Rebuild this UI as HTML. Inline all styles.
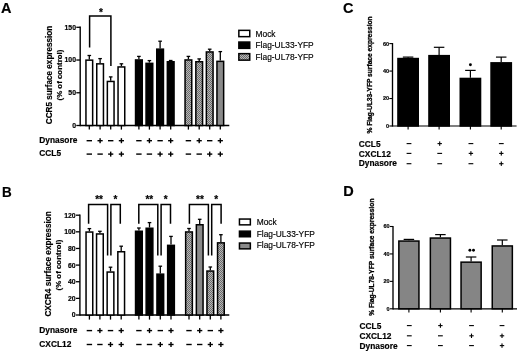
<!DOCTYPE html><html><head><meta charset="utf-8"><style>html,body{margin:0;padding:0;background:#fff;}svg{display:block;filter:grayscale(1);}text{font-family:"Liberation Sans",sans-serif;fill:#000;}text[font-weight="bold"]{stroke:#000;stroke-width:0.18px;}</style></head><body>
<svg width="520" height="362" viewBox="0 0 520 362">
<defs><pattern id="hatch" width="2" height="2" patternUnits="userSpaceOnUse"><rect width="2" height="2" fill="#b8b8b8"/><rect width="1" height="1" fill="#6a6a6a"/><rect x="1" y="1" width="1" height="1" fill="#6a6a6a"/></pattern></defs>
<rect width="520" height="362" fill="#fff"/>
<text x="0.90" y="13.40" font-size="14.5" font-weight="bold" text-anchor="start" >A</text>
<text transform="translate(1.9,196.6) scale(0.93,1.07)" font-size="14.5" font-weight="bold">B</text>
<text x="342.90" y="13.40" font-size="14.5" font-weight="bold" text-anchor="start" >C</text>
<text x="343.20" y="196.20" font-size="14.5" font-weight="bold" text-anchor="start" >D</text>
<line x1="80.20" y1="26.60" x2="80.20" y2="126.20" stroke="#000" stroke-width="1.4"/>
<line x1="80.20" y1="125.50" x2="229.30" y2="125.50" stroke="#000" stroke-width="1.4"/>
<line x1="76.30" y1="125.50" x2="80.20" y2="125.50" stroke="#000" stroke-width="1.3"/>
<text x="76.00" y="127.90" font-size="6.9" font-weight="bold" text-anchor="end" >0</text>
<line x1="76.30" y1="92.77" x2="80.20" y2="92.77" stroke="#000" stroke-width="1.3"/>
<text x="76.00" y="95.17" font-size="6.9" font-weight="bold" text-anchor="end" >50</text>
<line x1="76.30" y1="60.03" x2="80.20" y2="60.03" stroke="#000" stroke-width="1.3"/>
<text x="76.00" y="62.43" font-size="6.9" font-weight="bold" text-anchor="end" >100</text>
<line x1="76.30" y1="27.30" x2="80.20" y2="27.30" stroke="#000" stroke-width="1.3"/>
<text x="76.00" y="29.70" font-size="6.9" font-weight="bold" text-anchor="end" >150</text>
<rect x="85.95" y="60.15" width="6.70" height="65.35" fill="#fff" stroke="#000" stroke-width="1.5"/>
<line x1="89.30" y1="59.40" x2="89.30" y2="55.50" stroke="#000" stroke-width="1.3"/>
<line x1="87.50" y1="55.50" x2="91.10" y2="55.50" stroke="#000" stroke-width="1.3"/>
<line x1="89.30" y1="125.50" x2="89.30" y2="129.60" stroke="#000" stroke-width="1.3"/>
<rect x="96.75" y="63.85" width="6.70" height="61.65" fill="#fff" stroke="#000" stroke-width="1.5"/>
<line x1="100.10" y1="63.10" x2="100.10" y2="58.60" stroke="#000" stroke-width="1.3"/>
<line x1="98.30" y1="58.60" x2="101.90" y2="58.60" stroke="#000" stroke-width="1.3"/>
<line x1="100.10" y1="125.50" x2="100.10" y2="129.60" stroke="#000" stroke-width="1.3"/>
<rect x="107.35" y="81.45" width="6.70" height="44.05" fill="#fff" stroke="#000" stroke-width="1.5"/>
<line x1="110.70" y1="80.70" x2="110.70" y2="76.90" stroke="#000" stroke-width="1.3"/>
<line x1="108.90" y1="76.90" x2="112.50" y2="76.90" stroke="#000" stroke-width="1.3"/>
<line x1="110.70" y1="125.50" x2="110.70" y2="129.60" stroke="#000" stroke-width="1.3"/>
<rect x="118.05" y="66.95" width="6.70" height="58.55" fill="#fff" stroke="#000" stroke-width="1.5"/>
<line x1="121.40" y1="66.20" x2="121.40" y2="63.80" stroke="#000" stroke-width="1.3"/>
<line x1="119.60" y1="63.80" x2="123.20" y2="63.80" stroke="#000" stroke-width="1.3"/>
<line x1="121.40" y1="125.50" x2="121.40" y2="129.60" stroke="#000" stroke-width="1.3"/>
<rect x="135.55" y="59.95" width="6.70" height="65.55" fill="#000" stroke="#000" stroke-width="1.5"/>
<line x1="138.90" y1="59.20" x2="138.90" y2="56.40" stroke="#000" stroke-width="1.3"/>
<line x1="137.10" y1="56.40" x2="140.70" y2="56.40" stroke="#000" stroke-width="1.3"/>
<line x1="138.90" y1="125.50" x2="138.90" y2="129.60" stroke="#000" stroke-width="1.3"/>
<rect x="146.05" y="63.35" width="6.70" height="62.15" fill="#000" stroke="#000" stroke-width="1.5"/>
<line x1="149.40" y1="62.60" x2="149.40" y2="60.60" stroke="#000" stroke-width="1.3"/>
<line x1="147.60" y1="60.60" x2="151.20" y2="60.60" stroke="#000" stroke-width="1.3"/>
<line x1="149.40" y1="125.50" x2="149.40" y2="129.60" stroke="#000" stroke-width="1.3"/>
<rect x="156.75" y="49.15" width="6.70" height="76.35" fill="#000" stroke="#000" stroke-width="1.5"/>
<line x1="160.10" y1="48.40" x2="160.10" y2="41.20" stroke="#000" stroke-width="1.3"/>
<line x1="158.30" y1="41.20" x2="161.90" y2="41.20" stroke="#000" stroke-width="1.3"/>
<line x1="160.10" y1="125.50" x2="160.10" y2="129.60" stroke="#000" stroke-width="1.3"/>
<rect x="167.35" y="61.75" width="6.70" height="63.75" fill="#000" stroke="#000" stroke-width="1.5"/>
<line x1="170.70" y1="61.00" x2="170.70" y2="60.50" stroke="#000" stroke-width="1.3"/>
<line x1="168.90" y1="60.50" x2="172.50" y2="60.50" stroke="#000" stroke-width="1.3"/>
<line x1="170.70" y1="125.50" x2="170.70" y2="129.60" stroke="#000" stroke-width="1.3"/>
<rect x="185.05" y="59.95" width="6.70" height="65.55" fill="url(#hatch)" stroke="#000" stroke-width="1.5"/>
<line x1="188.40" y1="59.20" x2="188.40" y2="56.40" stroke="#000" stroke-width="1.3"/>
<line x1="186.60" y1="56.40" x2="190.20" y2="56.40" stroke="#000" stroke-width="1.3"/>
<line x1="188.40" y1="125.50" x2="188.40" y2="129.60" stroke="#000" stroke-width="1.3"/>
<rect x="195.85" y="61.75" width="6.70" height="63.75" fill="url(#hatch)" stroke="#000" stroke-width="1.5"/>
<line x1="199.20" y1="61.00" x2="199.20" y2="58.90" stroke="#000" stroke-width="1.3"/>
<line x1="197.40" y1="58.90" x2="201.00" y2="58.90" stroke="#000" stroke-width="1.3"/>
<line x1="199.20" y1="125.50" x2="199.20" y2="129.60" stroke="#000" stroke-width="1.3"/>
<rect x="206.35" y="51.95" width="6.70" height="73.55" fill="url(#hatch)" stroke="#000" stroke-width="1.5"/>
<line x1="209.70" y1="51.20" x2="209.70" y2="49.20" stroke="#000" stroke-width="1.3"/>
<line x1="207.90" y1="49.20" x2="211.50" y2="49.20" stroke="#000" stroke-width="1.3"/>
<line x1="209.70" y1="125.50" x2="209.70" y2="129.60" stroke="#000" stroke-width="1.3"/>
<rect x="216.95" y="61.35" width="6.70" height="64.15" fill="#8a8a8a" stroke="#000" stroke-width="1.5"/>
<line x1="220.30" y1="60.60" x2="220.30" y2="51.60" stroke="#000" stroke-width="1.3"/>
<line x1="218.50" y1="51.60" x2="222.10" y2="51.60" stroke="#000" stroke-width="1.3"/>
<line x1="220.30" y1="125.50" x2="220.30" y2="129.60" stroke="#000" stroke-width="1.3"/>
<path d="M89.6,47.5 V15.9 H110.9 V66" fill="none" stroke="#000" stroke-width="1.5"/>
<text x="100.90" y="16.40" font-size="10" font-weight="bold" text-anchor="middle" >*</text>
<text x="39.30" y="143.10" font-size="8.35" font-weight="bold" text-anchor="start" >Dynasore</text>
<text x="39.30" y="156.20" font-size="8.35" font-weight="bold" text-anchor="start" >CCL5</text>
<rect x="86.60" y="140.00" width="5.40" height="1.40" fill="#000"/>
<rect x="86.60" y="153.40" width="5.40" height="1.40" fill="#000"/>
<rect x="97.50" y="140.00" width="5.20" height="1.40" fill="#000"/>
<rect x="99.40" y="138.20" width="1.40" height="5.00" fill="#000"/>
<rect x="97.40" y="153.40" width="5.40" height="1.40" fill="#000"/>
<rect x="108.00" y="140.00" width="5.40" height="1.40" fill="#000"/>
<rect x="108.10" y="153.40" width="5.20" height="1.40" fill="#000"/>
<rect x="110.00" y="151.60" width="1.40" height="5.00" fill="#000"/>
<rect x="118.80" y="140.00" width="5.20" height="1.40" fill="#000"/>
<rect x="120.70" y="138.20" width="1.40" height="5.00" fill="#000"/>
<rect x="118.80" y="153.40" width="5.20" height="1.40" fill="#000"/>
<rect x="120.70" y="151.60" width="1.40" height="5.00" fill="#000"/>
<rect x="136.20" y="140.00" width="5.40" height="1.40" fill="#000"/>
<rect x="136.20" y="153.40" width="5.40" height="1.40" fill="#000"/>
<rect x="146.80" y="140.00" width="5.20" height="1.40" fill="#000"/>
<rect x="148.70" y="138.20" width="1.40" height="5.00" fill="#000"/>
<rect x="146.70" y="153.40" width="5.40" height="1.40" fill="#000"/>
<rect x="157.40" y="140.00" width="5.40" height="1.40" fill="#000"/>
<rect x="157.50" y="153.40" width="5.20" height="1.40" fill="#000"/>
<rect x="159.40" y="151.60" width="1.40" height="5.00" fill="#000"/>
<rect x="168.10" y="140.00" width="5.20" height="1.40" fill="#000"/>
<rect x="170.00" y="138.20" width="1.40" height="5.00" fill="#000"/>
<rect x="168.10" y="153.40" width="5.20" height="1.40" fill="#000"/>
<rect x="170.00" y="151.60" width="1.40" height="5.00" fill="#000"/>
<rect x="185.70" y="140.00" width="5.40" height="1.40" fill="#000"/>
<rect x="185.70" y="153.40" width="5.40" height="1.40" fill="#000"/>
<rect x="196.60" y="140.00" width="5.20" height="1.40" fill="#000"/>
<rect x="198.50" y="138.20" width="1.40" height="5.00" fill="#000"/>
<rect x="196.50" y="153.40" width="5.40" height="1.40" fill="#000"/>
<rect x="207.00" y="140.00" width="5.40" height="1.40" fill="#000"/>
<rect x="207.10" y="153.40" width="5.20" height="1.40" fill="#000"/>
<rect x="209.00" y="151.60" width="1.40" height="5.00" fill="#000"/>
<rect x="217.70" y="140.00" width="5.20" height="1.40" fill="#000"/>
<rect x="219.60" y="138.20" width="1.40" height="5.00" fill="#000"/>
<rect x="217.70" y="153.40" width="5.20" height="1.40" fill="#000"/>
<rect x="219.60" y="151.60" width="1.40" height="5.00" fill="#000"/>
<text transform="translate(51.9,124.2) rotate(-90)" font-size="8.15" font-weight="bold">CCR5 surface expression</text>
<text transform="translate(62.0,100.5) rotate(-90)" font-size="7.9" font-weight="bold">(% of control)</text>
<rect x="238.85" y="30.35" width="10.90" height="6.30" fill="#fff" stroke="#000" stroke-width="1.5"/>
<text x="255.50" y="36.60" font-size="8.4" font-weight="normal" text-anchor="start" stroke="#000" stroke-width="0.15">Mock</text>
<rect x="238.85" y="42.05" width="10.90" height="6.30" fill="#000" stroke="#000" stroke-width="1.5"/>
<text x="255.50" y="48.20" font-size="8.4" font-weight="normal" text-anchor="start" stroke="#000" stroke-width="0.15">Flag-UL33-YFP</text>
<rect x="238.85" y="53.65" width="10.90" height="6.50" fill="url(#hatch)" stroke="#000" stroke-width="1.5"/>
<text x="255.50" y="59.80" font-size="8.4" font-weight="normal" text-anchor="start" stroke="#000" stroke-width="0.15">Flag-UL78-YFP</text>
<line x1="79.90" y1="214.50" x2="79.90" y2="315.70" stroke="#000" stroke-width="1.4"/>
<line x1="79.90" y1="315.00" x2="229.30" y2="315.00" stroke="#000" stroke-width="1.4"/>
<line x1="76.00" y1="315.00" x2="79.90" y2="315.00" stroke="#000" stroke-width="1.3"/>
<text x="75.70" y="317.40" font-size="6.9" font-weight="bold" text-anchor="end" >0</text>
<line x1="76.00" y1="298.37" x2="79.90" y2="298.37" stroke="#000" stroke-width="1.3"/>
<text x="75.70" y="300.77" font-size="6.9" font-weight="bold" text-anchor="end" >20</text>
<line x1="76.00" y1="281.73" x2="79.90" y2="281.73" stroke="#000" stroke-width="1.3"/>
<text x="75.70" y="284.13" font-size="6.9" font-weight="bold" text-anchor="end" >40</text>
<line x1="76.00" y1="265.10" x2="79.90" y2="265.10" stroke="#000" stroke-width="1.3"/>
<text x="75.70" y="267.50" font-size="6.9" font-weight="bold" text-anchor="end" >60</text>
<line x1="76.00" y1="248.46" x2="79.90" y2="248.46" stroke="#000" stroke-width="1.3"/>
<text x="75.70" y="250.86" font-size="6.9" font-weight="bold" text-anchor="end" >80</text>
<line x1="76.00" y1="231.83" x2="79.90" y2="231.83" stroke="#000" stroke-width="1.3"/>
<text x="75.70" y="234.23" font-size="6.9" font-weight="bold" text-anchor="end" >100</text>
<line x1="76.00" y1="215.20" x2="79.90" y2="215.20" stroke="#000" stroke-width="1.3"/>
<text x="75.70" y="217.60" font-size="6.9" font-weight="bold" text-anchor="end" >120</text>
<rect x="86.05" y="232.05" width="6.70" height="82.95" fill="#fff" stroke="#000" stroke-width="1.5"/>
<line x1="89.40" y1="231.30" x2="89.40" y2="228.60" stroke="#000" stroke-width="1.3"/>
<line x1="87.60" y1="228.60" x2="91.20" y2="228.60" stroke="#000" stroke-width="1.3"/>
<line x1="89.40" y1="315.00" x2="89.40" y2="319.60" stroke="#000" stroke-width="1.3"/>
<rect x="96.55" y="233.95" width="6.70" height="81.05" fill="#fff" stroke="#000" stroke-width="1.5"/>
<line x1="99.90" y1="233.20" x2="99.90" y2="231.30" stroke="#000" stroke-width="1.3"/>
<line x1="98.10" y1="231.30" x2="101.70" y2="231.30" stroke="#000" stroke-width="1.3"/>
<line x1="99.90" y1="315.00" x2="99.90" y2="319.60" stroke="#000" stroke-width="1.3"/>
<rect x="107.15" y="272.05" width="6.70" height="42.95" fill="#fff" stroke="#000" stroke-width="1.5"/>
<line x1="110.50" y1="271.30" x2="110.50" y2="267.20" stroke="#000" stroke-width="1.3"/>
<line x1="108.70" y1="267.20" x2="112.30" y2="267.20" stroke="#000" stroke-width="1.3"/>
<line x1="110.50" y1="315.00" x2="110.50" y2="319.60" stroke="#000" stroke-width="1.3"/>
<rect x="117.85" y="251.75" width="6.70" height="63.25" fill="#fff" stroke="#000" stroke-width="1.5"/>
<line x1="121.20" y1="251.00" x2="121.20" y2="246.20" stroke="#000" stroke-width="1.3"/>
<line x1="119.40" y1="246.20" x2="123.00" y2="246.20" stroke="#000" stroke-width="1.3"/>
<line x1="121.20" y1="315.00" x2="121.20" y2="319.60" stroke="#000" stroke-width="1.3"/>
<path d="M88.60,223.7 V204.4 H107.60 V255.6" fill="none" stroke="#000" stroke-width="1.5"/>
<path d="M110.90,255.6 V204.4 H120.30 V223.7" fill="none" stroke="#000" stroke-width="1.5"/>
<text x="99.10" y="203.10" font-size="10" font-weight="bold" text-anchor="middle" >**</text>
<text x="115.50" y="202.60" font-size="10" font-weight="bold" text-anchor="middle" >*</text>
<rect x="135.55" y="231.25" width="6.70" height="83.75" fill="#000" stroke="#000" stroke-width="1.5"/>
<line x1="138.90" y1="230.50" x2="138.90" y2="228.00" stroke="#000" stroke-width="1.3"/>
<line x1="137.10" y1="228.00" x2="140.70" y2="228.00" stroke="#000" stroke-width="1.3"/>
<line x1="138.90" y1="315.00" x2="138.90" y2="319.60" stroke="#000" stroke-width="1.3"/>
<rect x="146.15" y="228.25" width="6.70" height="86.75" fill="#000" stroke="#000" stroke-width="1.5"/>
<line x1="149.50" y1="227.50" x2="149.50" y2="222.60" stroke="#000" stroke-width="1.3"/>
<line x1="147.70" y1="222.60" x2="151.30" y2="222.60" stroke="#000" stroke-width="1.3"/>
<line x1="149.50" y1="315.00" x2="149.50" y2="319.60" stroke="#000" stroke-width="1.3"/>
<rect x="156.95" y="274.15" width="6.70" height="40.85" fill="#000" stroke="#000" stroke-width="1.5"/>
<line x1="160.30" y1="273.40" x2="160.30" y2="266.20" stroke="#000" stroke-width="1.3"/>
<line x1="158.50" y1="266.20" x2="162.10" y2="266.20" stroke="#000" stroke-width="1.3"/>
<line x1="160.30" y1="315.00" x2="160.30" y2="319.60" stroke="#000" stroke-width="1.3"/>
<rect x="167.65" y="245.35" width="6.70" height="69.65" fill="#000" stroke="#000" stroke-width="1.5"/>
<line x1="171.00" y1="244.60" x2="171.00" y2="236.40" stroke="#000" stroke-width="1.3"/>
<line x1="169.20" y1="236.40" x2="172.80" y2="236.40" stroke="#000" stroke-width="1.3"/>
<line x1="171.00" y1="315.00" x2="171.00" y2="319.60" stroke="#000" stroke-width="1.3"/>
<path d="M138.80,223.7 V204.4 H157.80 V255.6" fill="none" stroke="#000" stroke-width="1.5"/>
<path d="M161.10,255.6 V204.4 H170.50 V223.7" fill="none" stroke="#000" stroke-width="1.5"/>
<text x="149.30" y="203.10" font-size="10" font-weight="bold" text-anchor="middle" >**</text>
<text x="165.70" y="202.60" font-size="10" font-weight="bold" text-anchor="middle" >*</text>
<rect x="185.65" y="231.95" width="6.70" height="83.05" fill="url(#hatch)" stroke="#000" stroke-width="1.5"/>
<line x1="189.00" y1="231.20" x2="189.00" y2="228.50" stroke="#000" stroke-width="1.3"/>
<line x1="187.20" y1="228.50" x2="190.80" y2="228.50" stroke="#000" stroke-width="1.3"/>
<line x1="189.00" y1="315.00" x2="189.00" y2="319.60" stroke="#000" stroke-width="1.3"/>
<rect x="196.35" y="224.75" width="6.70" height="90.25" fill="#8a8a8a" stroke="#000" stroke-width="1.5"/>
<line x1="199.70" y1="224.00" x2="199.70" y2="219.30" stroke="#000" stroke-width="1.3"/>
<line x1="197.90" y1="219.30" x2="201.50" y2="219.30" stroke="#000" stroke-width="1.3"/>
<line x1="199.70" y1="315.00" x2="199.70" y2="319.60" stroke="#000" stroke-width="1.3"/>
<rect x="206.95" y="271.05" width="6.70" height="43.95" fill="url(#hatch)" stroke="#000" stroke-width="1.5"/>
<line x1="210.30" y1="270.30" x2="210.30" y2="267.00" stroke="#000" stroke-width="1.3"/>
<line x1="208.50" y1="267.00" x2="212.10" y2="267.00" stroke="#000" stroke-width="1.3"/>
<line x1="210.30" y1="315.00" x2="210.30" y2="319.60" stroke="#000" stroke-width="1.3"/>
<rect x="217.55" y="242.85" width="6.70" height="72.15" fill="url(#hatch)" stroke="#000" stroke-width="1.5"/>
<line x1="220.90" y1="242.10" x2="220.90" y2="234.70" stroke="#000" stroke-width="1.3"/>
<line x1="219.10" y1="234.70" x2="222.70" y2="234.70" stroke="#000" stroke-width="1.3"/>
<line x1="220.90" y1="315.00" x2="220.90" y2="319.60" stroke="#000" stroke-width="1.3"/>
<path d="M189.40,223.7 V204.4 H208.40 V255.6" fill="none" stroke="#000" stroke-width="1.5"/>
<path d="M211.70,255.6 V204.4 H221.10 V223.7" fill="none" stroke="#000" stroke-width="1.5"/>
<text x="199.90" y="203.10" font-size="10" font-weight="bold" text-anchor="middle" >**</text>
<text x="216.30" y="202.60" font-size="10" font-weight="bold" text-anchor="middle" >*</text>
<text x="39.30" y="333.00" font-size="8.35" font-weight="bold" text-anchor="start" >Dynasore</text>
<text x="39.30" y="346.60" font-size="8.35" font-weight="bold" text-anchor="start" >CXCL12</text>
<rect x="86.70" y="329.90" width="5.40" height="1.40" fill="#000"/>
<rect x="86.70" y="343.80" width="5.40" height="1.40" fill="#000"/>
<rect x="97.30" y="329.90" width="5.20" height="1.40" fill="#000"/>
<rect x="99.20" y="328.10" width="1.40" height="5.00" fill="#000"/>
<rect x="97.20" y="343.80" width="5.40" height="1.40" fill="#000"/>
<rect x="107.80" y="329.90" width="5.40" height="1.40" fill="#000"/>
<rect x="107.90" y="343.80" width="5.20" height="1.40" fill="#000"/>
<rect x="109.80" y="342.00" width="1.40" height="5.00" fill="#000"/>
<rect x="118.60" y="329.90" width="5.20" height="1.40" fill="#000"/>
<rect x="120.50" y="328.10" width="1.40" height="5.00" fill="#000"/>
<rect x="118.60" y="343.80" width="5.20" height="1.40" fill="#000"/>
<rect x="120.50" y="342.00" width="1.40" height="5.00" fill="#000"/>
<rect x="136.20" y="329.90" width="5.40" height="1.40" fill="#000"/>
<rect x="136.20" y="343.80" width="5.40" height="1.40" fill="#000"/>
<rect x="146.90" y="329.90" width="5.20" height="1.40" fill="#000"/>
<rect x="148.80" y="328.10" width="1.40" height="5.00" fill="#000"/>
<rect x="146.80" y="343.80" width="5.40" height="1.40" fill="#000"/>
<rect x="157.60" y="329.90" width="5.40" height="1.40" fill="#000"/>
<rect x="157.70" y="343.80" width="5.20" height="1.40" fill="#000"/>
<rect x="159.60" y="342.00" width="1.40" height="5.00" fill="#000"/>
<rect x="168.40" y="329.90" width="5.20" height="1.40" fill="#000"/>
<rect x="170.30" y="328.10" width="1.40" height="5.00" fill="#000"/>
<rect x="168.40" y="343.80" width="5.20" height="1.40" fill="#000"/>
<rect x="170.30" y="342.00" width="1.40" height="5.00" fill="#000"/>
<rect x="186.30" y="329.90" width="5.40" height="1.40" fill="#000"/>
<rect x="186.30" y="343.80" width="5.40" height="1.40" fill="#000"/>
<rect x="197.10" y="329.90" width="5.20" height="1.40" fill="#000"/>
<rect x="199.00" y="328.10" width="1.40" height="5.00" fill="#000"/>
<rect x="197.00" y="343.80" width="5.40" height="1.40" fill="#000"/>
<rect x="207.60" y="329.90" width="5.40" height="1.40" fill="#000"/>
<rect x="207.70" y="343.80" width="5.20" height="1.40" fill="#000"/>
<rect x="209.60" y="342.00" width="1.40" height="5.00" fill="#000"/>
<rect x="218.30" y="329.90" width="5.20" height="1.40" fill="#000"/>
<rect x="220.20" y="328.10" width="1.40" height="5.00" fill="#000"/>
<rect x="218.30" y="343.80" width="5.20" height="1.40" fill="#000"/>
<rect x="220.20" y="342.00" width="1.40" height="5.00" fill="#000"/>
<text transform="translate(50.7,316.6) rotate(-90)" font-size="8.25" font-weight="bold">CXCR4 surface expression</text>
<text transform="translate(61.0,290.5) rotate(-90)" font-size="7.9" font-weight="bold">(% of control)</text>
<rect x="239.45" y="219.05" width="10.90" height="5.80" fill="#fff" stroke="#000" stroke-width="1.5"/>
<text x="256.70" y="225.10" font-size="8.4" font-weight="normal" text-anchor="start" stroke="#000" stroke-width="0.15">Mock</text>
<rect x="239.45" y="231.15" width="10.90" height="5.60" fill="#000" stroke="#000" stroke-width="1.5"/>
<text x="256.70" y="236.90" font-size="8.4" font-weight="normal" text-anchor="start" stroke="#000" stroke-width="0.15">Flag-UL33-YFP</text>
<rect x="239.45" y="243.05" width="10.90" height="5.80" fill="#8a8a8a" stroke="#000" stroke-width="1.5"/>
<text x="256.70" y="248.30" font-size="8.4" font-weight="normal" text-anchor="start" stroke="#000" stroke-width="0.15">Flag-UL78-YFP</text>
<line x1="392.50" y1="43.00" x2="392.50" y2="126.60" stroke="#000" stroke-width="1.35"/>
<line x1="392.50" y1="126.00" x2="516.60" y2="126.00" stroke="#000" stroke-width="1.2"/>
<line x1="389.30" y1="126.00" x2="392.50" y2="126.00" stroke="#000" stroke-width="1.1"/>
<text x="389.00" y="127.95" font-size="5.5" font-weight="bold" text-anchor="end" >0</text>
<line x1="389.30" y1="98.53" x2="392.50" y2="98.53" stroke="#000" stroke-width="1.1"/>
<text x="389.00" y="100.48" font-size="5.5" font-weight="bold" text-anchor="end" >20</text>
<line x1="389.30" y1="71.07" x2="392.50" y2="71.07" stroke="#000" stroke-width="1.1"/>
<text x="389.00" y="73.02" font-size="5.5" font-weight="bold" text-anchor="end" >40</text>
<line x1="389.30" y1="43.60" x2="392.50" y2="43.60" stroke="#000" stroke-width="1.1"/>
<text x="389.00" y="45.55" font-size="5.5" font-weight="bold" text-anchor="end" >60</text>
<rect x="397.95" y="58.55" width="20.30" height="67.45" fill="#000" stroke="#000" stroke-width="1.5"/>
<line x1="408.10" y1="57.80" x2="408.10" y2="57.10" stroke="#000" stroke-width="1.2"/>
<line x1="402.85" y1="57.10" x2="413.35" y2="57.10" stroke="#000" stroke-width="1.2"/>
<line x1="408.10" y1="126.00" x2="408.10" y2="129.60" stroke="#000" stroke-width="1.1"/>
<rect x="428.95" y="55.65" width="20.30" height="70.35" fill="#000" stroke="#000" stroke-width="1.5"/>
<line x1="439.10" y1="54.90" x2="439.10" y2="47.30" stroke="#000" stroke-width="1.2"/>
<line x1="433.85" y1="47.30" x2="444.35" y2="47.30" stroke="#000" stroke-width="1.2"/>
<line x1="439.10" y1="126.00" x2="439.10" y2="129.60" stroke="#000" stroke-width="1.1"/>
<rect x="460.25" y="78.45" width="20.30" height="47.55" fill="#000" stroke="#000" stroke-width="1.5"/>
<line x1="470.40" y1="77.70" x2="470.40" y2="70.40" stroke="#000" stroke-width="1.2"/>
<line x1="465.15" y1="70.40" x2="475.65" y2="70.40" stroke="#000" stroke-width="1.2"/>
<line x1="470.40" y1="126.00" x2="470.40" y2="129.60" stroke="#000" stroke-width="1.1"/>
<rect x="491.05" y="62.85" width="20.30" height="63.15" fill="#000" stroke="#000" stroke-width="1.5"/>
<line x1="501.20" y1="62.10" x2="501.20" y2="57.10" stroke="#000" stroke-width="1.2"/>
<line x1="495.95" y1="57.10" x2="506.45" y2="57.10" stroke="#000" stroke-width="1.2"/>
<line x1="501.20" y1="126.00" x2="501.20" y2="129.60" stroke="#000" stroke-width="1.1"/>
<circle cx="470.4" cy="64.7" r="1.45" fill="#000"/>
<text transform="translate(372.4,133.6) rotate(-90)" font-size="6.65" font-weight="bold" style="stroke-width:0.3px">% Flag-UL33-YFP surface expression</text>
<text x="358.80" y="146.80" font-size="8.35" font-weight="bold" text-anchor="start" >CCL5</text>
<text x="358.80" y="156.70" font-size="8.35" font-weight="bold" text-anchor="start" >CXCL12</text>
<text x="358.80" y="166.40" font-size="8.35" font-weight="bold" text-anchor="start" >Dynasore</text>
<rect x="406.60" y="143.05" width="4.80" height="1.10" fill="#000"/>
<rect x="437.50" y="143.05" width="4.40" height="1.10" fill="#000"/>
<rect x="439.15" y="141.40" width="1.10" height="4.40" fill="#000"/>
<rect x="468.50" y="143.05" width="4.80" height="1.10" fill="#000"/>
<rect x="498.90" y="143.05" width="4.80" height="1.10" fill="#000"/>
<rect x="406.60" y="152.85" width="4.80" height="1.10" fill="#000"/>
<rect x="437.30" y="152.85" width="4.80" height="1.10" fill="#000"/>
<rect x="468.70" y="152.85" width="4.40" height="1.10" fill="#000"/>
<rect x="470.35" y="151.20" width="1.10" height="4.40" fill="#000"/>
<rect x="499.10" y="152.85" width="4.40" height="1.10" fill="#000"/>
<rect x="500.75" y="151.20" width="1.10" height="4.40" fill="#000"/>
<rect x="406.60" y="163.15" width="4.80" height="1.10" fill="#000"/>
<rect x="437.30" y="163.15" width="4.80" height="1.10" fill="#000"/>
<rect x="468.50" y="163.15" width="4.80" height="1.10" fill="#000"/>
<rect x="499.10" y="163.15" width="4.40" height="1.10" fill="#000"/>
<rect x="500.75" y="161.50" width="1.10" height="4.40" fill="#000"/>
<line x1="393.00" y1="225.90" x2="393.00" y2="309.40" stroke="#000" stroke-width="1.35"/>
<line x1="393.00" y1="308.80" x2="517.00" y2="308.80" stroke="#000" stroke-width="1.2"/>
<line x1="389.90" y1="308.80" x2="393.00" y2="308.80" stroke="#000" stroke-width="1.1"/>
<text x="389.60" y="310.75" font-size="5.5" font-weight="bold" text-anchor="end" >0</text>
<line x1="389.90" y1="281.37" x2="393.00" y2="281.37" stroke="#000" stroke-width="1.1"/>
<text x="389.60" y="283.32" font-size="5.5" font-weight="bold" text-anchor="end" >20</text>
<line x1="389.90" y1="253.93" x2="393.00" y2="253.93" stroke="#000" stroke-width="1.1"/>
<text x="389.60" y="255.88" font-size="5.5" font-weight="bold" text-anchor="end" >40</text>
<line x1="389.90" y1="226.50" x2="393.00" y2="226.50" stroke="#000" stroke-width="1.1"/>
<text x="389.60" y="228.45" font-size="5.5" font-weight="bold" text-anchor="end" >60</text>
<rect x="398.85" y="241.05" width="20.10" height="67.75" fill="#858585" stroke="#000" stroke-width="1.5"/>
<line x1="408.90" y1="240.30" x2="408.90" y2="239.40" stroke="#000" stroke-width="1.2"/>
<line x1="403.65" y1="239.40" x2="414.15" y2="239.40" stroke="#000" stroke-width="1.2"/>
<line x1="408.90" y1="308.80" x2="408.90" y2="312.40" stroke="#000" stroke-width="1.1"/>
<rect x="430.35" y="238.05" width="20.10" height="70.75" fill="#858585" stroke="#000" stroke-width="1.5"/>
<line x1="440.40" y1="237.30" x2="440.40" y2="234.60" stroke="#000" stroke-width="1.2"/>
<line x1="435.15" y1="234.60" x2="445.65" y2="234.60" stroke="#000" stroke-width="1.2"/>
<line x1="440.40" y1="308.80" x2="440.40" y2="312.40" stroke="#000" stroke-width="1.1"/>
<rect x="461.05" y="262.15" width="20.10" height="46.65" fill="#858585" stroke="#000" stroke-width="1.5"/>
<line x1="471.10" y1="261.40" x2="471.10" y2="257.00" stroke="#000" stroke-width="1.2"/>
<line x1="465.85" y1="257.00" x2="476.35" y2="257.00" stroke="#000" stroke-width="1.2"/>
<line x1="471.10" y1="308.80" x2="471.10" y2="312.40" stroke="#000" stroke-width="1.1"/>
<rect x="492.25" y="245.95" width="20.10" height="62.85" fill="#858585" stroke="#000" stroke-width="1.5"/>
<line x1="502.30" y1="245.20" x2="502.30" y2="240.00" stroke="#000" stroke-width="1.2"/>
<line x1="497.05" y1="240.00" x2="507.55" y2="240.00" stroke="#000" stroke-width="1.2"/>
<line x1="502.30" y1="308.80" x2="502.30" y2="312.40" stroke="#000" stroke-width="1.1"/>
<circle cx="469.9" cy="250.3" r="1.45" fill="#000"/><circle cx="473.5" cy="250.3" r="1.45" fill="#000"/>
<text transform="translate(373.5,315.8) rotate(-90)" font-size="6.65" font-weight="bold" style="stroke-width:0.3px">% Flag-UL78-YFP surface expression</text>
<text x="359.50" y="328.60" font-size="8.35" font-weight="bold" text-anchor="start" >CCL5</text>
<text x="359.50" y="339.00" font-size="8.35" font-weight="bold" text-anchor="start" >CXCL12</text>
<text x="359.50" y="348.70" font-size="8.35" font-weight="bold" text-anchor="start" >Dynasore</text>
<rect x="406.90" y="325.05" width="4.80" height="1.10" fill="#000"/>
<rect x="438.20" y="325.05" width="4.40" height="1.10" fill="#000"/>
<rect x="439.85" y="323.40" width="1.10" height="4.40" fill="#000"/>
<rect x="469.10" y="325.05" width="4.80" height="1.10" fill="#000"/>
<rect x="499.60" y="325.05" width="4.80" height="1.10" fill="#000"/>
<rect x="406.90" y="335.25" width="4.80" height="1.10" fill="#000"/>
<rect x="438.00" y="335.25" width="4.80" height="1.10" fill="#000"/>
<rect x="469.30" y="335.25" width="4.40" height="1.10" fill="#000"/>
<rect x="470.95" y="333.60" width="1.10" height="4.40" fill="#000"/>
<rect x="499.80" y="335.25" width="4.40" height="1.10" fill="#000"/>
<rect x="501.45" y="333.60" width="1.10" height="4.40" fill="#000"/>
<rect x="406.90" y="345.05" width="4.80" height="1.10" fill="#000"/>
<rect x="438.00" y="345.05" width="4.80" height="1.10" fill="#000"/>
<rect x="469.10" y="345.05" width="4.80" height="1.10" fill="#000"/>
<rect x="499.80" y="345.05" width="4.40" height="1.10" fill="#000"/>
<rect x="501.45" y="343.40" width="1.10" height="4.40" fill="#000"/>
</svg></body></html>
